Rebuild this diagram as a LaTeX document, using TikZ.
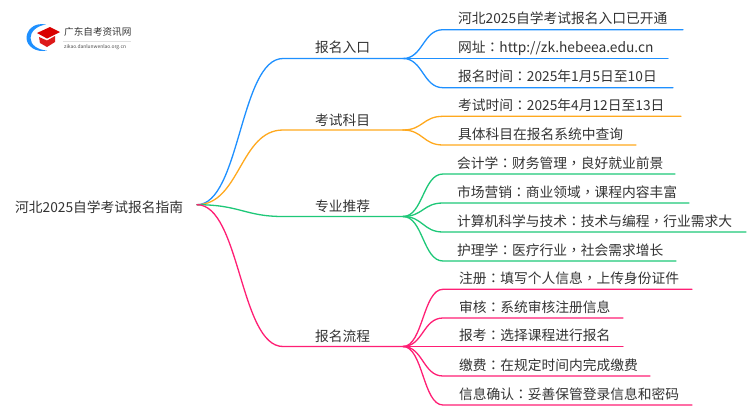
\documentclass[tikz,border=0pt]{standalone}
\usepackage{fontspec}
\setmainfont{Noto Sans CJK SC}
\newfontfamily\pf{Noto Sans CJK TC}
\definecolor{cblue}{HTML}{1E90FF}
\definecolor{corange}{HTML}{FFA91E}
\definecolor{cgreen}{HTML}{1EC878}
\definecolor{cpink}{HTML}{FF1F75}
\definecolor{ctext}{HTML}{333333}
\newcommand{\cc}{{\pf ：}}
\newcommand{\cm}{{\pf ，}}
\tikzset{
 lbl/.style={anchor=base west,inner sep=0pt,text=ctext,font=\fontsize{13.75}{14}\selectfont},
 conn/.style={line width=1.3pt,line cap=round},
 small/.style={anchor=base west,inner sep=0pt},
}
\begin{document}
\begin{tikzpicture}[x=1pt,y=-1pt]
\useasboundingbox (0,0) rectangle (750,410);
\fill[white] (0,0) rectangle (750,410);
% logo
\fill[cblue] (46,24.5) .. controls (33,22) and (26.5,31) .. (26.5,38) .. controls (26.5,46) and (36,53) .. (47,50.5) .. controls (38,50) and (30.5,45) .. (30.5,38) .. controls (30.5,32) and (36,26) .. (46,24.5) -- cycle;
\fill[red!85!black] (37,33) -- (50,27) -- (60,32) -- (47,38.5) -- cycle;
\fill[red!85!black!90!white] (39,37) -- (47,40.5) -- (55,36) -- (55,42) -- (47,47) -- (40,43) -- cycle;
\node[small,text=ctext,font=\fontsize{9.6}{10}\selectfont] (logot) at (64,35) {广东自考资讯网};
\draw[black!12,line width=.4pt] (63,40.7) -- (131,40.7);
\node[small,text=black!70,font=\fontsize{4.9}{5}\selectfont] (logos) at (64,48) {zikao.danlunwenlao.org.cn};
% root
\node[lbl] (root) at (15,212) {河北2025自学考试报名指南};
\coordinate (o) at (197,204.7);
% level 1
\node[lbl] (a) at (315,52) {报名入口};
\node[lbl] (b) at (315,125) {考试科目};
\node[lbl] (c) at (315,211) {专业推荐};
\node[lbl] (d) at (315,341) {报名流程};
\coordinate (ae) at (403,58.5);
\coordinate (be) at (403,130);
\coordinate (ce) at (403,216.5);
\coordinate (de) at (403,346.5);
\draw[conn,cblue] (o) .. controls (240,204.7) and (240,58.5) .. (283,58.5) -- (ae);
\draw[conn,corange] (o) .. controls (240,204.7) and (240,130) .. (283,130) -- (be);
\draw[conn,cgreen] (o) .. controls (240,204.7) and (245,216.5) .. (283,216.5) -- (ce);
\draw[conn,cpink] (o) .. controls (240,204.7) and (240,346.5) .. (283,346.5) -- (de);
% leaves
\newcommand{\leaf}[7]{% name colour line-y text end-x parent text-x
 \node[lbl] (#1) at (#7,#3-6) {#4};
 \coordinate (#1e) at (#5,#3);
 \draw[conn,#2] (#6) .. controls (423,0 |- #6) and (423,#3) .. (443,#3) -- (#1e);
}
\leaf{a1}{cblue}{29.7}{河北2025自学考试报名入口已开通}{683}{ae}{458}
\leaf{a2}{cblue}{58.5}{网址\cc http://zk.hebeea.edu.cn}{668}{ae}{458}
\leaf{a3}{cblue}{87.7}{报名时间\cc 2025年1月5日至10日}{673}{ae}{458}
\leaf{b1}{corange}{116.3}{考试时间\cc 2025年4月12日至13日}{681}{be}{458}
\leaf{b2}{corange}{145}{具体科目在报名系统中查询}{636}{be}{458}
\leaf{c1}{cgreen}{174}{会计学\cc 财务管理\cm 良好就业前景}{675}{ce}{457}
\leaf{c2}{cgreen}{203}{市场营销\cc 商业领域\cm 课程内容丰富}{689}{ce}{457}
\leaf{c3}{cgreen}{232}{计算机科学与技术\cc 技术与编程\cm 行业需求大}{746}{ce}{457}
\leaf{c4}{cgreen}{261}{护理学\cc 医疗行业\cm 社会需求增长}{676}{ce}{457}
\leaf{d1}{cpink}{289.3}{注册\cc 填写个人信息\cm 上传身份证件}{692}{de}{459}
\leaf{d2}{cpink}{318}{审核\cc 系统审核注册信息}{623}{de}{459}
\leaf{d3}{cpink}{346.5}{报考\cc 选择课程进行报名}{623}{de}{459}
\leaf{d4}{cpink}{376}{缴费\cc 在规定时间内完成缴费}{650}{de}{459}
\leaf{d5}{cpink}{405}{信息确认\cc 妥善保管登录信息和密码}{692}{de}{459}
\end{tikzpicture}
\end{document}
